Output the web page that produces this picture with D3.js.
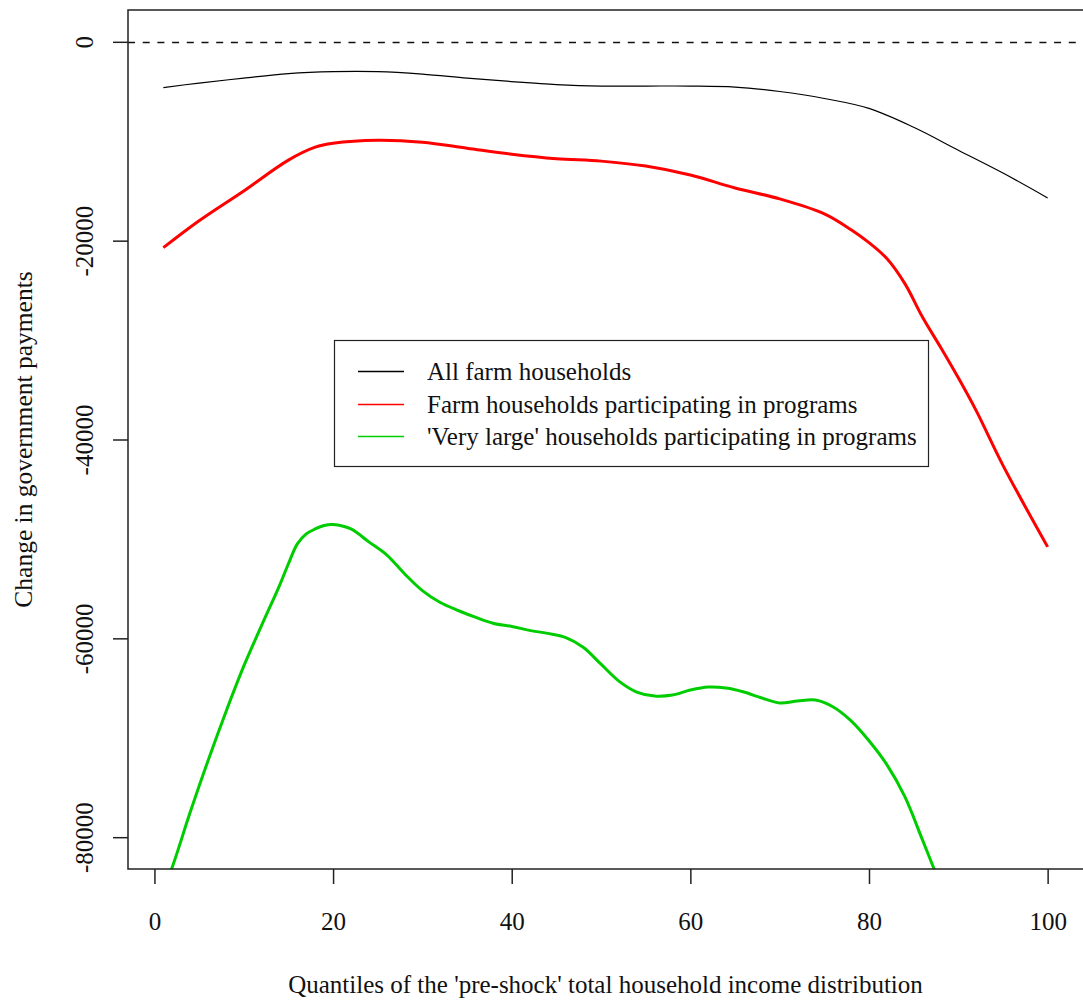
<!DOCTYPE html>
<html>
<head>
<meta charset="utf-8">
<script src="https://cdn.jsdelivr.net/npm/d3@7"></script>
<style>
  html, body { margin: 0; padding: 0; background: #fff; }
  svg { display: block; }
  text { font-family: "Liberation Serif", "Times New Roman", serif; fill: #111; }
</style>
</head>
<body>
<svg id="chart" width="1083" height="1003"></svg>
<script>
// ---- Data ----
const xTicks = [0, 20, 40, 60, 80, 100];
const yTicks = [0, -20000, -40000, -60000, -80000];

const seriesNames = [
  "All farm households",
  "Farm households participating in programs",
  "'Very large' households participating in programs"
];
const seriesColors = ["#000000", "#ff0000", "#00cd00"];

const allQ = [1, 5, 10, 15, 20, 25, 30, 35, 40, 45, 50, 55, 60, 65, 70, 75, 80, 85, 90, 95, 100];
const allV = [-4600, -4150, -3650, -3200, -3000, -3000, -3250, -3650, -4000, -4300, -4450, -4450, -4450, -4550, -5000, -5700, -6700, -8600, -10900, -13200, -15700];

const partQ = [1, 5, 10, 15, 18, 20, 25, 30, 35, 40, 45, 50, 55, 60, 65, 70, 75, 78, 80, 82, 84, 86, 88, 90, 92, 95, 100];
const partV = [-20700, -18000, -15000, -11900, -10600, -10200, -9900, -10100, -10700, -11300, -11750, -12000, -12500, -13400, -14700, -15800, -17300, -18900, -20200, -21800, -24300, -27700, -30700, -33800, -37100, -42600, -50800];

const largeQ = [1, 2, 4, 6, 8, 10, 12, 14, 15, 16, 17, 18, 19, 20, 22, 24, 26, 28, 30, 32, 34, 36, 38, 40, 42, 44, 46, 48, 50, 52, 54, 56, 58, 60, 62, 64, 66, 68, 70, 72, 74, 76, 78, 80, 82, 84, 86, 88];
const largeV = [-85300, -83000, -77500, -72300, -67400, -62800, -58700, -54700, -52500, -50500, -49500, -49000, -48650, -48550, -49000, -50300, -51600, -53500, -55200, -56400, -57200, -57900, -58500, -58800, -59200, -59500, -59900, -60900, -62600, -64300, -65400, -65800, -65700, -65200, -64900, -65000, -65400, -66000, -66500, -66300, -66200, -66900, -68300, -70300, -72700, -75900, -80300, -84800];

// ---- Layout ----
const svg = d3.select("#chart");
const L = 128, R = 1083, T = 10, B = 869;

const x = d3.scaleLinear().domain([-2.96, 103.96]).range([L, R]);
const y = d3.scaleLinear().domain([-83200, 3200]).range([B, T]);

svg.append("defs").append("clipPath").attr("id", "clip")
  .append("rect").attr("x", L).attr("y", T).attr("width", R - L).attr("height", B - T);

// zero reference line
svg.append("line")
  .attr("x1", L).attr("x2", R).attr("y1", Math.round(y(0)) + 0.5).attr("y2", Math.round(y(0)) + 0.5)
  .attr("stroke", "#111").attr("stroke-width", 1.5).attr("stroke-dasharray", "7,7.7");

// series
const series = [
  { q: allQ, v: allV, w: 1.2 },
  { q: partQ, v: partV, w: 3 },
  { q: largeQ, v: largeV, w: 3 }
];
const line = d3.line().x(d => x(d[0])).y(d => y(d[1])).curve(d3.curveCatmullRom.alpha(0.5));
const g = svg.append("g").attr("clip-path", "url(#clip)");
series.forEach((s, i) => {
  g.append("path")
    .datum(s.q.map((q, j) => [q, s.v[j]]))
    .attr("d", line)
    .attr("fill", "none")
    .attr("stroke", seriesColors[i])
    .attr("stroke-width", s.w)
    .attr("stroke-linejoin", "round");
});

// frame
svg.append("rect")
  .attr("x", L).attr("y", T).attr("width", R - L + 2).attr("height", B - T)
  .attr("fill", "none").attr("stroke", "#222").attr("stroke-width", 1.5);

// x axis
const xAxis = d3.axisBottom(x).tickValues(xTicks).tickSize(15).tickPadding(0).tickSizeOuter(0);
const gx = svg.append("g").attr("transform", `translate(0,${B})`).call(xAxis);
gx.select(".domain").remove();
gx.selectAll(".tick line").attr("stroke", "#222").attr("stroke-width", 1.5);
gx.selectAll(".tick text").remove();
gx.selectAll(".tick").append("text")
  .attr("y", 61).attr("text-anchor", "middle")
  .style("font-size", "25px")
  .text(d => d);

// y axis
const yAxis = d3.axisLeft(y).tickValues(yTicks).tickSize(15).tickSizeOuter(0);
const gy = svg.append("g").attr("transform", `translate(${L},0)`).call(yAxis);
gy.select(".domain").remove();
gy.selectAll(".tick line").attr("stroke", "#222").attr("stroke-width", 1.5);
gy.selectAll(".tick text").remove();
gy.selectAll(".tick").append("text")
  .attr("transform", "translate(-35,0) rotate(-90)")
  .attr("text-anchor", "middle")
  .style("font-size", "25px")
  .text(d => d);

// axis titles
svg.append("text")
  .attr("x", (L + R) / 2).attr("y", 993)
  .attr("text-anchor", "middle")
  .style("font-size", "25px")
  .text("Quantiles of the 'pre-shock' total household income distribution");

svg.append("text")
  .attr("transform", `translate(32,${(T + B) / 2}) rotate(-90)`)
  .attr("text-anchor", "middle")
  .style("font-size", "25.5px")
  .text("Change in government payments");

// legend
const lg = svg.append("g");
lg.append("rect")
  .attr("x", 334.5).attr("y", 340.5).attr("width", 594).attr("height", 126)
  .attr("fill", "#fff").attr("stroke", "#222").attr("stroke-width", 1.2);
seriesNames.forEach((name, i) => {
  const cy = Math.round(371 + i * 32.5) + 0.5;
  lg.append("line")
    .attr("x1", 358).attr("x2", 404).attr("y1", cy).attr("y2", cy)
    .attr("stroke", seriesColors[i]).attr("stroke-width", 1.5);
  lg.append("text")
    .attr("x", 427).attr("y", cy + 8)
    .style("font-size", "25px")
    .text(name);
});
</script>
</body>
</html>
